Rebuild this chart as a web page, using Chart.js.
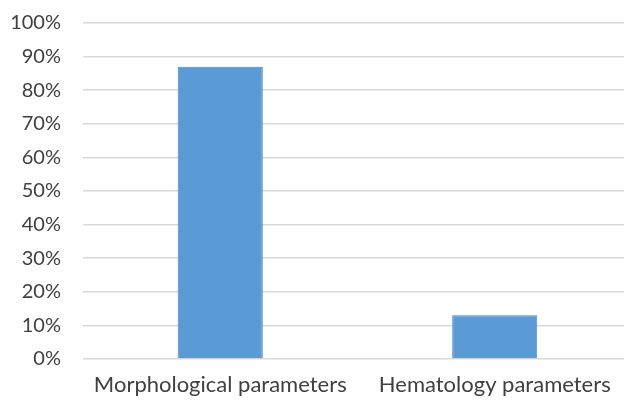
<!DOCTYPE html>
<html>
<head>
<meta charset="utf-8">
<script src="https://cdn.jsdelivr.net/npm/chart.js@4"></script>
<style>
  html, body { margin: 0; padding: 0; background: #fff; overflow: hidden; }
  #wrap { position: relative; width: 632px; height: 401px; }
</style>
</head>
<body>
<div id="wrap"><canvas id="chart"></canvas></div>
<script>
// 資料
const categories = ['Morphological parameters', 'Hematology parameters'];
const values = [87, 13];
const yTicks = [0, 10, 20, 30, 40, 50, 60, 70, 80, 90, 100];

const ctx = document.getElementById('chart').getContext('2d');

new Chart(ctx, {
    type: 'bar',
    data: {
        labels: categories,
        datasets: [{
            data: values,
            backgroundColor: '#5b9bd5',
            borderColor: '#4a87c4',
            borderWidth: 1,
            barPercentage: 0.31,
            categoryPercentage: 1
        }]
    },
    options: {
        responsive: true,
        maintainAspectRatio: false,
        animation: false,
        layout: { autoPadding: false, padding: { top: 23, right: 0, bottom: 2, left: 10 } },
        plugins: {
            legend: { display: false },
            tooltip: { enabled: false }
        },
        scales: {
            x: {
                grid: { display: false, drawTicks: false },
                border: { display: false },
                ticks: {
                    color: '#404040',
                    font: { family: 'Lato', size: 22 },
                    maxRotation: 0,
                    autoSkip: false,
                    padding: 13
                },
                // 固定 x 軸高度，避免長標籤撐開左右邊距
                afterFit: axis => {
                    axis.height = 40;
                    axis.paddingLeft = 0;
                    axis.paddingRight = 0;
                }
            },
            y: {
                min: 0,
                max: 100,
                afterBuildTicks: axis => {
                    axis.ticks = yTicks.map(v => ({ value: v }));
                },
                grid: { color: '#d9d9d9', lineWidth: 1.5, drawTicks: false },
                border: { display: false },
                ticks: {
                    color: '#404040',
                    font: { family: 'Lato', size: 20 },
                    padding: 22,
                    callback: v => v + '%'
                },
                afterFit: axis => {
                    axis.width = 73;
                    axis.paddingTop = 0;
                    axis.paddingBottom = 0;
                }
            }
        }
    }
});
</script>
</body>
</html>
